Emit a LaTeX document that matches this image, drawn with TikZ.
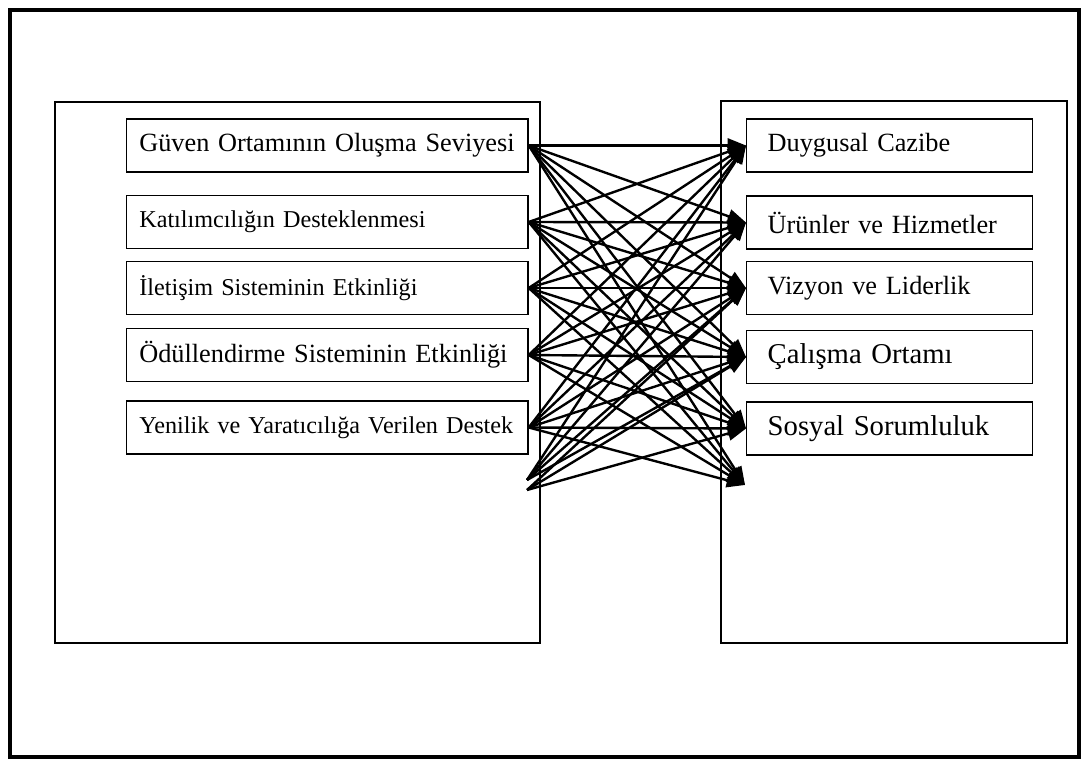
\documentclass[tikz,border=0pt]{standalone}
\usepackage{fontspec}
\setmainfont{Liberation Serif}
\usetikzlibrary{arrows.meta}

\tikzset{
  lbox/.style={draw,line width=1pt,anchor=west,minimum height=1.325cm,
    text width=9.4cm,inner xsep=.315cm,align=left,
    font=\fontsize{17.2}{19}\selectfont},
  rbox/.style={draw,line width=1pt,anchor=west,minimum height=1.325cm,
    text width=6.1cm,inner xsep=.525cm,align=left,
    font=\fontsize{18.7}{20}\selectfont},
  bigtext/.style={font=\fontsize{18.7}{20}\selectfont},
  largetext/.style={font=\fontsize{20.4}{22}\selectfont},
  link/.style={line width=1.7pt,-{Triangle[length=13pt,width=10pt]}}
}

\begin{document}
\begin{tikzpicture}[x=.025cm,y=-.025cm]
  \useasboundingbox (0,0) rectangle (1087,767);
  \draw[line width=3pt] (10,10) rectangle (1079,757);
  \draw[line width=.8pt] (55,102) rectangle (540,643);
  \draw[line width=.8pt] (721,101) rectangle (1067,643);

  \node[lbox,bigtext] (g1) at (126,145.5) {Güven Ortamının Oluşma Seviyesi};
  \node[lbox] (g2) at (126,222) {Katılımcılığın Desteklenmesi};
  \node[lbox] (g3) at (126,288) {İletişim Sisteminin Etkinliği};
  \node[lbox,bigtext] (g4) at (126,355) {Ödüllendirme Sisteminin Etkinliği};
  \node[lbox] (g5) at (126,427.5) {Yenilik ve Yaratıcılığa Verilen Destek};

  \node[rbox] (d1) at (746,145.5) {Duygusal Cazibe};
  \node[rbox] (d2) at (746,222.5) {Ürünler ve Hizmetler};
  \node[rbox] (d3) at (746,288) {Vizyon ve Liderlik};
  \node[rbox,largetext] (d4) at (746,357) {Çalışma Ortamı};
  \node[rbox,largetext] (d5) at (746,428.5) {Sosyal Sorumluluk};

  \coordinate (s6) at (527,480);
  \coordinate (s7) at (527,490);
  \coordinate (t6) at (745,485);

  \foreach \s in {g1,g2,g3,g4,g5} {
    \foreach \t in {d1,d2,d3,d4,d5}
      \draw[link] (\s.east) -- (\t.west);
    \draw[link] (\s.east) -- (t6);
  }
  \foreach \t in {d1,d2,d3,d4}
    \draw[link] (s6) -- (\t.west);
  \foreach \t in {d3,d4,d5}
    \draw[link] (s7) -- (\t.west);
\end{tikzpicture}
\end{document}
